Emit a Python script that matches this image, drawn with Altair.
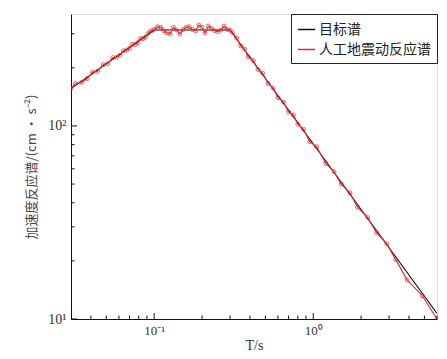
import altair as alt
import pandas as pd

# ---- data ----
series_names = ["目标谱", "人工地震动反应谱"]

target_T = [0.03, 0.1, 0.3, 6.0]
target_Sa = [156, 314, 314, 10.7]

art_T = [0.030, 0.032, 0.035, 0.038, 0.041, 0.044, 0.048, 0.051, 0.055, 0.058,
         0.061, 0.064, 0.067, 0.070, 0.073, 0.076, 0.079, 0.082, 0.085, 0.088,
         0.091, 0.094, 0.097,
         0.100, 0.105, 0.110, 0.115, 0.120, 0.126, 0.132, 0.138, 0.145, 0.152,
         0.159, 0.166, 0.174, 0.182, 0.191, 0.200, 0.209, 0.219, 0.229, 0.240,
         0.251, 0.263, 0.275, 0.288, 0.300,
         0.31, 0.33, 0.35, 0.37, 0.39, 0.42, 0.45, 0.48, 0.52, 0.56,
         0.60, 0.65, 0.70, 0.75, 0.80, 0.87, 0.95, 1.05, 1.2, 1.35,
         1.5, 1.7, 1.9, 2.2, 2.5, 2.9, 3.3, 3.9, 4.85, 6.0]
art_Sa = [156, 166, 168, 176, 190, 192, 208, 210, 226, 227,
          232, 245, 247, 252, 265, 264, 270, 284, 283, 288,
          300, 308, 312,
          316, 327, 324, 311, 304, 299, 324, 314, 299, 316,
          324, 327, 316, 311, 333, 324, 302, 329, 320, 311,
          308, 314, 329, 316, 314,
          305, 285, 260, 250, 228, 218, 196, 188, 166, 157,
          140, 133, 118, 114, 102, 96, 83, 78, 64, 58,
          50, 45, 38, 33.5, 28, 24.5, 20.3, 15.9, 13.2, 10.0]

y_major = [10, 100]
y_minor = [20, 30, 40, 50, 60, 70, 80, 90, 200, 300]
x_major = [0.1, 1.0]
x_minor = [0.04, 0.05, 0.06, 0.07, 0.08, 0.09,
           0.2, 0.3, 0.4, 0.5, 0.6, 0.7, 0.8, 0.9,
           2, 3, 4, 5, 6]

RED = "#e3262d"

df = pd.concat([
    pd.DataFrame({"series": series_names[0], "T": target_T, "Sa": target_Sa}),
    pd.DataFrame({"series": series_names[1], "T": art_T, "Sa": art_Sa}),
])
df_red = pd.DataFrame({"T": art_T, "Sa": art_Sa})

xscale = alt.Scale(type="log", domain=[0.03, 6], nice=False)
yscale = alt.Scale(type="log", domain=[10, 380], nice=False)

xaxis = alt.Axis(values=x_major, ticks=False, grid=False, domainColor="#111",
                 labelExpr="datum.value < 0.5 ? '10⁻¹' : '10⁰'",
                 labelFont="Liberation Serif", labelFontSize=13, labelColor="#333",
                 labelPadding=5, title="T/s", titleFont="Liberation Serif",
                 titleFontSize=14, titleFontWeight="normal", titleColor="#333",
                 titlePadding=1)
yaxis = alt.Axis(values=y_major, ticks=False, grid=False, domainColor="#111",
                 labelExpr="datum.value < 50 ? '10¹' : '10²'",
                 labelFont="Liberation Serif", labelFontSize=14, labelColor="#333",
                 labelPadding=5, title="加速度反应谱/(cm • s⁻²)",
                 titleFont="Noto Sans CJK SC", titleFontSize=13,
                 titleFontWeight="normal", titleColor="#444", titlePadding=9)

lines = alt.Chart(df).mark_line(strokeWidth=1.1, clip=True).encode(
    x=alt.X("T:Q", scale=xscale, axis=xaxis),
    y=alt.Y("Sa:Q", scale=yscale, axis=yaxis),
    color=alt.Color("series:N",
                    scale=alt.Scale(domain=series_names, range=["#111111", RED]),
                    sort=series_names,
                    legend=alt.Legend(title=None, orient="top-right", offset=0,
                                      strokeColor="#222", fillColor="white",
                                      padding=6, labelFont="Noto Sans CJK SC",
                                      labelFontSize=14, labelColor="#222",
                                      symbolType="stroke", symbolSize=300,
                                      symbolStrokeWidth=1.5, rowPadding=3,
                                      labelOffset=3)),
)

points = alt.Chart(df_red).mark_point(filled=False, size=16, strokeWidth=1,
                                      color=RED, clip=True).encode(
    x=alt.X("T:Q", scale=xscale),
    y=alt.Y("Sa:Q", scale=yscale),
)

ytm = alt.Chart(pd.DataFrame({"v": y_major})).mark_rule(color="#111").encode(
    y=alt.Y("v:Q", scale=yscale), x=alt.value(0), x2=alt.value(6))
ytn = alt.Chart(pd.DataFrame({"v": y_minor})).mark_rule(color="#111").encode(
    y=alt.Y("v:Q", scale=yscale), x=alt.value(0), x2=alt.value(3.5))
xtm = alt.Chart(pd.DataFrame({"v": x_major})).mark_rule(color="#111").encode(
    x=alt.X("v:Q", scale=xscale), y=alt.value(305), y2=alt.value(299))
xtn = alt.Chart(pd.DataFrame({"v": x_minor})).mark_rule(color="#111").encode(
    x=alt.X("v:Q", scale=xscale), y=alt.value(305), y2=alt.value(301.5))

chart = alt.layer(lines, points, ytm, ytn, xtm, xtn).properties(
    width=366, height=305,
    padding={"left": 63, "top": 6, "right": 2, "bottom": 32},
    autosize=alt.AutoSizeParams(type="none"),
).configure_view(stroke="#222", strokeWidth=1).configure(background="white")

chart.save("out.html", embed_options={"renderer": "svg", "actions": False})
